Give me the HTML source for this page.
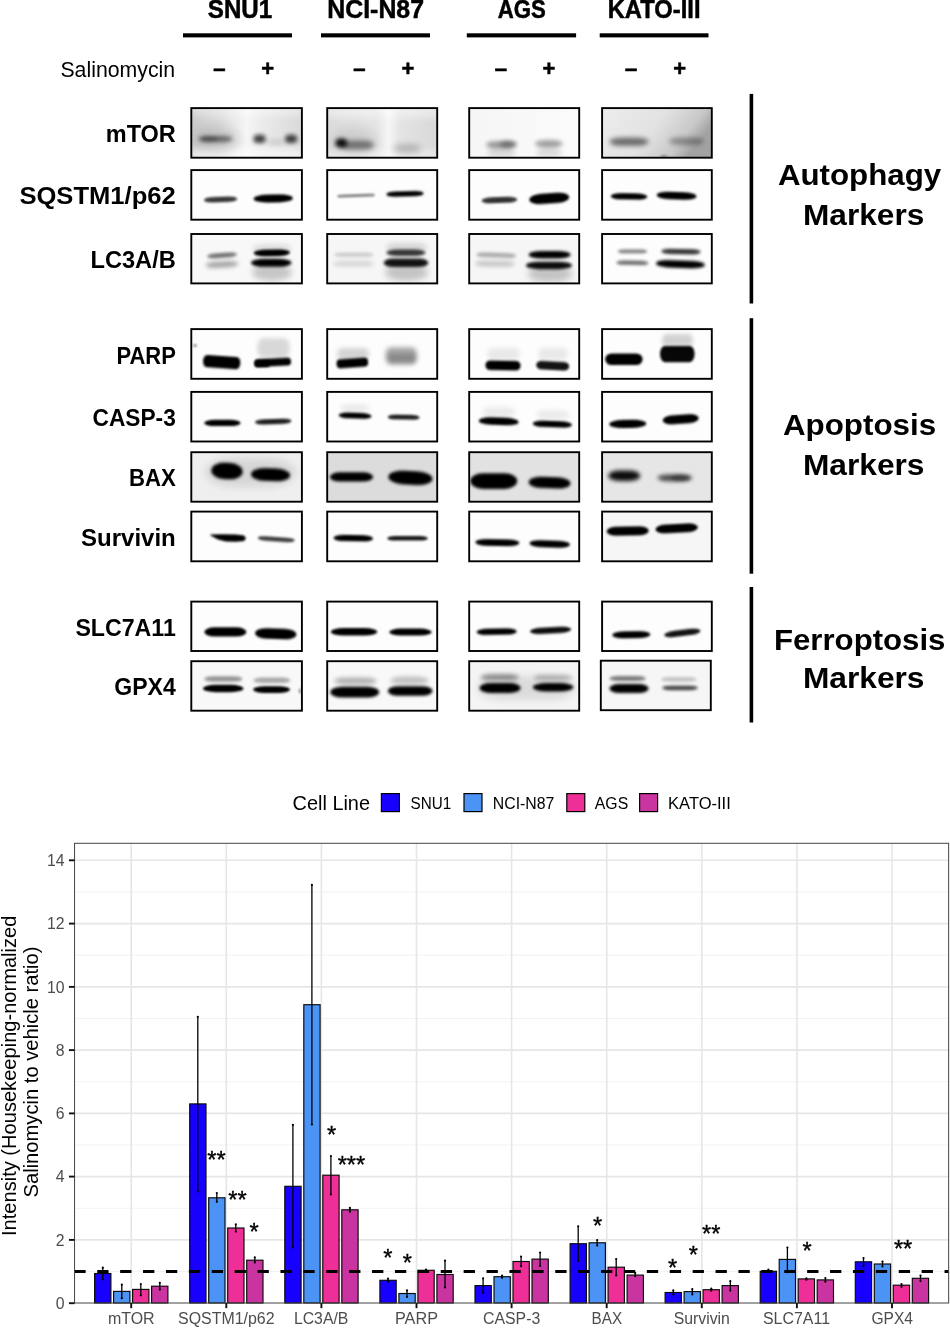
<!DOCTYPE html>
<html lang="en"><head><meta charset="utf-8"><title>Salinomycin western blot and quantification</title>
<style>
html,body{margin:0;padding:0;background:#fff;}
body{width:950px;height:1328px;overflow:hidden;}
svg{display:block;font-family:"Liberation Sans", Arial, Helvetica, sans-serif;}
text{white-space:pre;}
</style></head><body>
<svg width="950" height="1328" viewBox="0 0 950 1328">
<rect width="950" height="1328" fill="#fff"/>
<text x="207.8" y="18.3" font-size="25.8" font-weight="bold" fill="#000" text-anchor="start" textLength="64.4" lengthAdjust="spacingAndGlyphs" stroke="#000" stroke-width="0.5">SNU1</text>
<text x="327.3" y="18.3" font-size="25.8" font-weight="bold" fill="#000" text-anchor="start" textLength="96.7" lengthAdjust="spacingAndGlyphs" stroke="#000" stroke-width="0.5">NCI-N87</text>
<text x="497.7" y="18.3" font-size="25.8" font-weight="bold" fill="#000" text-anchor="start" textLength="48.1" lengthAdjust="spacingAndGlyphs" stroke="#000" stroke-width="0.5">AGS</text>
<text x="607.7" y="18.3" font-size="25.8" font-weight="bold" fill="#000" text-anchor="start" textLength="92.8" lengthAdjust="spacingAndGlyphs" stroke="#000" stroke-width="0.5">KATO-III</text>
<rect x="183" y="33.3" width="109.0" height="4.1" fill="#000"/>
<rect x="321" y="33.3" width="109.0" height="4.1" fill="#000"/>
<rect x="466.8" y="33.3" width="109.3" height="4.1" fill="#000"/>
<rect x="599.7" y="33.3" width="108.8" height="4.1" fill="#000"/>
<text x="60.4" y="77.0" font-size="22.8" font-weight="normal" fill="#000" text-anchor="start" textLength="114.8" lengthAdjust="spacingAndGlyphs">Salinomycin</text>
<text x="219.3" y="76.2" font-size="22" font-weight="bold" text-anchor="middle" stroke="#000" stroke-width="0.7" class="sg">&#8211;</text>
<text x="359.4" y="76.2" font-size="22" font-weight="bold" text-anchor="middle" stroke="#000" stroke-width="0.7" class="sg">&#8211;</text>
<text x="500.9" y="76.2" font-size="22" font-weight="bold" text-anchor="middle" stroke="#000" stroke-width="0.7" class="sg">&#8211;</text>
<text x="631.2" y="76.2" font-size="22" font-weight="bold" text-anchor="middle" stroke="#000" stroke-width="0.7" class="sg">&#8211;</text>
<text x="267.6" y="76.4" font-size="22" font-weight="bold" text-anchor="middle" stroke="#000" stroke-width="0.5" class="sg">+</text>
<text x="408.0" y="76.4" font-size="22" font-weight="bold" text-anchor="middle" stroke="#000" stroke-width="0.5" class="sg">+</text>
<text x="549.0" y="76.4" font-size="22" font-weight="bold" text-anchor="middle" stroke="#000" stroke-width="0.5" class="sg">+</text>
<text x="679.6" y="76.4" font-size="22" font-weight="bold" text-anchor="middle" stroke="#000" stroke-width="0.5" class="sg">+</text>
<text x="105.8" y="142.1" font-size="24.7" font-weight="bold" fill="#000" text-anchor="start" textLength="70.0" lengthAdjust="spacingAndGlyphs">mTOR</text>
<text x="19.4" y="204.0" font-size="24.7" font-weight="bold" fill="#000" text-anchor="start" textLength="156.4" lengthAdjust="spacingAndGlyphs">SQSTM1/p62</text>
<text x="90.5" y="267.6" font-size="24.7" font-weight="bold" fill="#000" text-anchor="start" textLength="85.3" lengthAdjust="spacingAndGlyphs">LC3A/B</text>
<text x="116.4" y="363.6" font-size="24.7" font-weight="bold" fill="#000" text-anchor="start" textLength="59.4" lengthAdjust="spacingAndGlyphs">PARP</text>
<text x="92.6" y="425.9" font-size="24.7" font-weight="bold" fill="#000" text-anchor="start" textLength="83.2" lengthAdjust="spacingAndGlyphs">CASP-3</text>
<text x="129.0" y="486.3" font-size="24.7" font-weight="bold" fill="#000" text-anchor="start" textLength="46.8" lengthAdjust="spacingAndGlyphs">BAX</text>
<text x="81.0" y="545.7" font-size="24.7" font-weight="bold" fill="#000" text-anchor="start" textLength="94.8" lengthAdjust="spacingAndGlyphs">Survivin</text>
<text x="75.4" y="635.8" font-size="24.7" font-weight="bold" fill="#000" text-anchor="start" textLength="100.4" lengthAdjust="spacingAndGlyphs">SLC7A11</text>
<text x="114.3" y="695.4" font-size="24.7" font-weight="bold" fill="#000" text-anchor="start" textLength="61.5" lengthAdjust="spacingAndGlyphs">GPX4</text>
<defs><filter id="b8" x="-30%" y="-150%" width="160%" height="400%"><feGaussianBlur stdDeviation="0.8"/></filter><filter id="b10" x="-30%" y="-150%" width="160%" height="400%"><feGaussianBlur stdDeviation="1.0"/></filter><filter id="b11" x="-30%" y="-150%" width="160%" height="400%"><feGaussianBlur stdDeviation="1.1"/></filter><filter id="b12" x="-30%" y="-150%" width="160%" height="400%"><feGaussianBlur stdDeviation="1.2"/></filter><filter id="b13" x="-30%" y="-150%" width="160%" height="400%"><feGaussianBlur stdDeviation="1.3"/></filter><filter id="b14" x="-30%" y="-150%" width="160%" height="400%"><feGaussianBlur stdDeviation="1.4"/></filter><filter id="b15" x="-30%" y="-150%" width="160%" height="400%"><feGaussianBlur stdDeviation="1.5"/></filter><filter id="b16" x="-30%" y="-150%" width="160%" height="400%"><feGaussianBlur stdDeviation="1.6"/></filter><filter id="b17" x="-30%" y="-150%" width="160%" height="400%"><feGaussianBlur stdDeviation="1.7"/></filter><filter id="b18" x="-30%" y="-150%" width="160%" height="400%"><feGaussianBlur stdDeviation="1.8"/></filter><filter id="b19" x="-30%" y="-150%" width="160%" height="400%"><feGaussianBlur stdDeviation="1.9"/></filter><filter id="b20" x="-30%" y="-150%" width="160%" height="400%"><feGaussianBlur stdDeviation="2.0"/></filter><filter id="b21" x="-30%" y="-150%" width="160%" height="400%"><feGaussianBlur stdDeviation="2.1"/></filter><filter id="b22" x="-30%" y="-150%" width="160%" height="400%"><feGaussianBlur stdDeviation="2.2"/></filter><filter id="b23" x="-30%" y="-150%" width="160%" height="400%"><feGaussianBlur stdDeviation="2.3"/></filter><filter id="b24" x="-30%" y="-150%" width="160%" height="400%"><feGaussianBlur stdDeviation="2.4"/></filter><filter id="b25" x="-30%" y="-150%" width="160%" height="400%"><feGaussianBlur stdDeviation="2.5"/></filter><filter id="b26" x="-30%" y="-150%" width="160%" height="400%"><feGaussianBlur stdDeviation="2.6"/></filter><filter id="b30" x="-30%" y="-150%" width="160%" height="400%"><feGaussianBlur stdDeviation="3"/></filter><filter id="b32" x="-30%" y="-150%" width="160%" height="400%"><feGaussianBlur stdDeviation="3.2"/></filter><filter id="b40" x="-30%" y="-150%" width="160%" height="400%"><feGaussianBlur stdDeviation="4"/></filter><filter id="b50" x="-30%" y="-150%" width="160%" height="400%"><feGaussianBlur stdDeviation="5"/></filter><linearGradient id="g00" x1="0" x2="1" y1="0" y2="0"><stop offset="0" stop-color="#c9c9c9"/><stop offset="0.25" stop-color="#dbdbdb"/><stop offset="0.5" stop-color="#f6f6f6"/><stop offset="0.62" stop-color="#ececec"/><stop offset="1" stop-color="#d9d9d9"/></linearGradient><linearGradient id="g01" x1="0" x2="1" y1="0" y2="0"><stop offset="0" stop-color="#dadada"/><stop offset="0.45" stop-color="#e4e4e4"/><stop offset="0.56" stop-color="#f6f6f6"/><stop offset="0.66" stop-color="#e4e4e4"/><stop offset="1" stop-color="#d8d8d8"/></linearGradient><linearGradient id="g02" x1="0" x2="1" y1="0" y2="0"><stop offset="0" stop-color="#f6f6f6"/><stop offset="1" stop-color="#fbfbfb"/></linearGradient><linearGradient id="g03" x1="0" x2="1" y1="0" y2="0.35"><stop offset="0" stop-color="#ededed"/><stop offset="0.55" stop-color="#e2e2e2"/><stop offset="0.85" stop-color="#c8c8c8"/><stop offset="1" stop-color="#a2a2a2"/></linearGradient><clipPath id="c00"><rect x="191.3" y="108.1" width="110.6" height="49.6"/></clipPath><clipPath id="c01"><rect x="327.2" y="108.1" width="110.0" height="49.6"/></clipPath><clipPath id="c02"><rect x="469.2" y="108.1" width="110.0" height="49.6"/></clipPath><clipPath id="c03"><rect x="602.1" y="108.1" width="109.7" height="49.6"/></clipPath><clipPath id="c10"><rect x="191.3" y="170.1" width="110.6" height="49.6"/></clipPath><clipPath id="c11"><rect x="327.2" y="170.1" width="110.0" height="49.6"/></clipPath><clipPath id="c12"><rect x="469.2" y="170.1" width="110.0" height="49.6"/></clipPath><clipPath id="c13"><rect x="602.1" y="170.1" width="109.7" height="49.6"/></clipPath><clipPath id="c20"><rect x="191.3" y="234.0" width="110.6" height="49.4"/></clipPath><clipPath id="c21"><rect x="327.2" y="234.0" width="110.0" height="49.4"/></clipPath><clipPath id="c22"><rect x="469.2" y="234.0" width="110.0" height="49.4"/></clipPath><clipPath id="c23"><rect x="602.1" y="234.0" width="109.7" height="49.4"/></clipPath><clipPath id="c30"><rect x="191.3" y="329.1" width="110.6" height="49.7"/></clipPath><clipPath id="c31"><rect x="327.2" y="329.1" width="110.0" height="49.7"/></clipPath><clipPath id="c32"><rect x="469.2" y="329.1" width="110.0" height="49.7"/></clipPath><clipPath id="c33"><rect x="602.1" y="329.1" width="109.7" height="49.7"/></clipPath><clipPath id="c40"><rect x="191.3" y="391.9" width="110.6" height="49.6"/></clipPath><clipPath id="c41"><rect x="327.2" y="391.9" width="110.0" height="49.6"/></clipPath><clipPath id="c42"><rect x="469.2" y="391.9" width="110.0" height="49.6"/></clipPath><clipPath id="c43"><rect x="602.1" y="391.9" width="109.7" height="49.6"/></clipPath><clipPath id="c50"><rect x="191.3" y="452.2" width="110.6" height="49.5"/></clipPath><clipPath id="c51"><rect x="327.2" y="452.2" width="110.0" height="49.5"/></clipPath><clipPath id="c52"><rect x="469.2" y="452.2" width="110.0" height="49.5"/></clipPath><clipPath id="c53"><rect x="602.1" y="452.2" width="109.7" height="49.5"/></clipPath><clipPath id="c60"><rect x="191.3" y="511.6" width="110.6" height="49.7"/></clipPath><clipPath id="c61"><rect x="327.2" y="511.6" width="110.0" height="49.7"/></clipPath><clipPath id="c62"><rect x="469.2" y="511.6" width="110.0" height="49.7"/></clipPath><clipPath id="c63"><rect x="602.1" y="511.6" width="109.7" height="49.7"/></clipPath><clipPath id="c70"><rect x="191.3" y="601.6" width="110.6" height="49.4"/></clipPath><clipPath id="c71"><rect x="327.2" y="601.6" width="110.0" height="49.4"/></clipPath><clipPath id="c72"><rect x="469.2" y="601.6" width="110.0" height="49.4"/></clipPath><clipPath id="c73"><rect x="602.1" y="601.6" width="109.7" height="49.4"/></clipPath><clipPath id="c80"><rect x="191.3" y="661.2" width="110.6" height="49.5"/></clipPath><clipPath id="c81"><rect x="327.2" y="661.2" width="110.0" height="49.5"/></clipPath><clipPath id="c82"><rect x="469.2" y="661.2" width="110.0" height="49.5"/></clipPath><clipPath id="c83"><rect x="602.1" y="661.2" width="109.7" height="49.5"/></clipPath></defs>
<rect x="191.3" y="108.1" width="110.6" height="49.6" fill="url(#g00)"/>
<g clip-path="url(#c00)">
<rect x="191" y="148" width="112" height="16" fill="#fff" opacity="0.55" filter="url(#b30)"/>
<rect x="191" y="100" width="112" height="16" fill="#fff" opacity="0.35" filter="url(#b30)"/>
<rect x="199.0" y="136.0" width="33.5" height="5.9" rx="10.0" ry="2.9" fill="#000" opacity="0.5" filter="url(#b19)"/>
<rect x="199.0" y="136.2" width="19.0" height="5.2" rx="8.8" ry="2.6" fill="#000" opacity="0.18" filter="url(#b15)"/>
<rect x="253.5" y="134.8" width="12.1" height="8.3" rx="4.1" ry="4.1" fill="#000" opacity="0.72" filter="url(#b19)"/>
<rect x="285.1" y="134.8" width="12.1" height="8.3" rx="4.1" ry="4.1" fill="#000" opacity="0.72" filter="url(#b19)"/>
<rect x="266.0" y="139.0" width="19.0" height="6.0" rx="9.5" ry="3.0" fill="#000" opacity="0.1" filter="url(#b25)"/>
<rect x="194.0" y="126.0" width="46.0" height="26.0" rx="23.0" ry="13.0" fill="#000" opacity="0.1" filter="url(#b50)"/>
</g>
<rect x="191.3" y="108.1" width="110.6" height="49.6" fill="none" stroke="#000" stroke-width="1.9"/>
<rect x="327.2" y="108.1" width="110.0" height="49.6" fill="url(#g01)"/>
<g clip-path="url(#c01)">
<rect x="327" y="150" width="112" height="14" fill="#fff" opacity="0.35" filter="url(#b30)"/>
<rect x="327" y="100" width="112" height="18" fill="#fff" opacity="0.4" filter="url(#b30)"/>
<rect x="335.3" y="138.4" width="11.8" height="9.1" rx="4.5" ry="4.5" fill="#000" opacity="0.92" filter="url(#b19)"/>
<rect x="341.0" y="140.5" width="33.0" height="9.0" rx="9.9" ry="4.5" fill="#000" opacity="0.45" filter="url(#b26)"/>
<rect x="393.0" y="144.0" width="28.0" height="9.5" rx="10.5" ry="4.8" fill="#000" opacity="0.2" filter="url(#b32)"/>
<rect x="332.0" y="128.0" width="46.0" height="28.0" rx="23.0" ry="14.0" fill="#000" opacity="0.08" filter="url(#b50)"/>
</g>
<rect x="327.2" y="108.1" width="110.0" height="49.6" fill="none" stroke="#000" stroke-width="1.9"/>
<rect x="469.2" y="108.1" width="110.0" height="49.6" fill="url(#g02)"/>
<g clip-path="url(#c02)">
<rect x="486.0" y="141.0" width="30.0" height="7.5" rx="12.8" ry="3.8" fill="#000" opacity="0.38" filter="url(#b22)"/>
<rect x="500.0" y="140.5" width="17.0" height="7.0" rx="8.5" ry="3.5" fill="#000" opacity="0.3" filter="url(#b20)"/>
<rect x="535.0" y="140.0" width="27.6" height="7.5" rx="12.8" ry="3.8" fill="#000" opacity="0.36" filter="url(#b22)"/>
<rect x="487.0" y="148.0" width="29.0" height="9.0" rx="9.9" ry="4.5" fill="#000" opacity="0.13" filter="url(#b25)"/>
<rect x="536.0" y="148.0" width="26.0" height="9.0" rx="9.9" ry="4.5" fill="#000" opacity="0.12" filter="url(#b25)"/>
</g>
<rect x="469.2" y="108.1" width="110.0" height="49.6" fill="none" stroke="#000" stroke-width="1.9"/>
<rect x="602.1" y="108.1" width="109.7" height="49.6" fill="url(#g03)"/>
<g clip-path="url(#c03)">
<rect x="609.4" y="137.7" width="39.1" height="8.1" rx="13.7" ry="4.0" fill="#000" opacity="0.55" filter="url(#b24)"/>
<rect x="669.0" y="137.5" width="34.6" height="7.5" rx="12.8" ry="3.8" fill="#000" opacity="0.33" filter="url(#b26)"/>
<rect x="660.2" y="155.5" width="7.6" height="1.6" rx="2.7" ry="0.8" fill="#000" opacity="0.5" filter="url(#b10)"/>
</g>
<rect x="602.1" y="108.1" width="109.7" height="49.6" fill="none" stroke="#000" stroke-width="1.9"/>
<rect x="191.3" y="170.1" width="110.6" height="49.6" fill="#fdfdfd"/>
<g clip-path="url(#c10)">
<rect x="203.8" y="196.7" width="33.5" height="5.6" rx="9.5" ry="2.8" fill="#000" opacity="0.78" filter="url(#b12)" transform="rotate(-2 220.6 199.4)"/>
<rect x="253.6" y="194.5" width="39.3" height="7.9" rx="13.5" ry="4.0" fill="#000" opacity="1.0" filter="url(#b11)" transform="rotate(-1 273.2 198.5)"/>
</g>
<rect x="191.3" y="170.1" width="110.6" height="49.6" fill="none" stroke="#000" stroke-width="1.9"/>
<rect x="327.2" y="170.1" width="110.0" height="49.6" fill="#fdfdfd"/>
<g clip-path="url(#c11)">
<rect x="337.1" y="194.2" width="37.9" height="2.9" rx="4.9" ry="1.4" fill="#000" opacity="0.5" filter="url(#b10)" transform="rotate(-2 356.0 195.7)"/>
<rect x="386.3" y="191.3" width="37.4" height="5.2" rx="8.8" ry="2.6" fill="#000" opacity="1.0" filter="url(#b10)" transform="rotate(-1.5 405.0 193.9)"/>
</g>
<rect x="327.2" y="170.1" width="110.0" height="49.6" fill="none" stroke="#000" stroke-width="1.9"/>
<rect x="469.2" y="170.1" width="110.0" height="49.6" fill="#fdfdfd"/>
<g clip-path="url(#c12)">
<rect x="481.5" y="197.0" width="35.8" height="6.1" rx="10.3" ry="3.0" fill="#000" opacity="0.8" filter="url(#b12)" transform="rotate(-2 499.4 200.0)"/>
<rect x="529.2" y="193.3" width="40.1" height="10.3" rx="11.4" ry="5.2" fill="#000" opacity="1.0" filter="url(#b11)" transform="rotate(-4 549.2 198.5)"/>
</g>
<rect x="469.2" y="170.1" width="110.0" height="49.6" fill="none" stroke="#000" stroke-width="1.9"/>
<rect x="602.1" y="170.1" width="109.7" height="49.6" fill="#fdfdfd"/>
<g clip-path="url(#c13)">
<rect x="610.7" y="193.3" width="36.6" height="6.3" rx="10.8" ry="3.2" fill="#000" opacity="1.0" filter="url(#b11)" transform="rotate(1 629.0 196.5)"/>
<rect x="656.7" y="192.0" width="39.8" height="7.6" rx="13.0" ry="3.8" fill="#000" opacity="1.0" filter="url(#b11)" transform="rotate(2 676.6 195.8)"/>
</g>
<rect x="602.1" y="170.1" width="109.7" height="49.6" fill="none" stroke="#000" stroke-width="1.9"/>
<rect x="191.3" y="234.0" width="110.6" height="49.4" fill="#f8f8f8"/>
<g clip-path="url(#c20)">
<rect x="207.2" y="253.1" width="29.6" height="4.6" rx="7.8" ry="2.3" fill="#000" opacity="0.55" filter="url(#b15)" transform="rotate(-4 221.9 255.4)"/>
<rect x="205.5" y="261.5" width="32.9" height="6.0" rx="10.2" ry="3.0" fill="#000" opacity="0.34" filter="url(#b20)" transform="rotate(-3 221.9 264.5)"/>
<rect x="253.6" y="249.4" width="36.5" height="6.8" rx="11.6" ry="3.4" fill="#000" opacity="1.0" filter="url(#b13)" transform="rotate(-1 271.9 252.8)"/>
<rect x="251.0" y="258.8" width="40.5" height="8.0" rx="13.5" ry="4.0" fill="#000" opacity="1.0" filter="url(#b14)"/>
<rect x="252.0" y="264.0" width="40.0" height="17.0" rx="18.7" ry="8.5" fill="#000" opacity="0.2" filter="url(#b30)"/>
<rect x="252.0" y="244.0" width="40.0" height="8.0" rx="13.6" ry="4.0" fill="#000" opacity="0.1" filter="url(#b25)"/>
</g>
<rect x="191.3" y="234.0" width="110.6" height="49.4" fill="none" stroke="#000" stroke-width="1.9"/>
<rect x="327.2" y="234.0" width="110.0" height="49.4" fill="#f6f6f6"/>
<g clip-path="url(#c21)">
<rect x="334.0" y="252.5" width="39.8" height="4.5" rx="7.6" ry="2.2" fill="#000" opacity="0.16" filter="url(#b18)"/>
<rect x="333.0" y="261.0" width="41.0" height="5.5" rx="9.3" ry="2.8" fill="#000" opacity="0.13" filter="url(#b20)"/>
<rect x="386.3" y="249.5" width="39.2" height="6.5" rx="11.1" ry="3.3" fill="#000" opacity="0.78" filter="url(#b16)"/>
<rect x="383.7" y="258.5" width="44.6" height="8.5" rx="9.4" ry="4.3" fill="#000" opacity="0.92" filter="url(#b16)"/>
<rect x="385.0" y="264.0" width="43.0" height="17.0" rx="18.7" ry="8.5" fill="#000" opacity="0.2" filter="url(#b30)"/>
<rect x="386.0" y="243.0" width="41.0" height="9.0" rx="9.9" ry="4.5" fill="#000" opacity="0.12" filter="url(#b25)"/>
</g>
<rect x="327.2" y="234.0" width="110.0" height="49.4" fill="none" stroke="#000" stroke-width="1.9"/>
<rect x="469.2" y="234.0" width="110.0" height="49.4" fill="#f6f6f6"/>
<g clip-path="url(#c22)">
<rect x="476.4" y="252.7" width="39.6" height="4.9" rx="8.3" ry="2.5" fill="#000" opacity="0.3" filter="url(#b18)" transform="rotate(2 496.2 255.2)"/>
<rect x="475.0" y="261.0" width="40.0" height="5.5" rx="9.3" ry="2.8" fill="#000" opacity="0.2" filter="url(#b20)" transform="rotate(1 495.0 263.8)"/>
<rect x="528.7" y="250.9" width="41.9" height="7.7" rx="13.0" ry="3.8" fill="#000" opacity="1.0" filter="url(#b14)"/>
<rect x="526.0" y="261.7" width="45.9" height="7.5" rx="12.8" ry="3.8" fill="#000" opacity="0.95" filter="url(#b16)"/>
<rect x="528.0" y="266.0" width="44.0" height="16.0" rx="17.6" ry="8.0" fill="#000" opacity="0.2" filter="url(#b30)"/>
</g>
<rect x="469.2" y="234.0" width="110.0" height="49.4" fill="none" stroke="#000" stroke-width="1.9"/>
<rect x="602.1" y="234.0" width="109.7" height="49.4" fill="#fdfdfd"/>
<g clip-path="url(#c23)">
<rect x="617.7" y="249.4" width="29.6" height="3.9" rx="6.6" ry="2.0" fill="#000" opacity="0.5" filter="url(#b15)"/>
<rect x="616.3" y="260.5" width="32.2" height="4.6" rx="7.9" ry="2.3" fill="#000" opacity="0.55" filter="url(#b16)" transform="rotate(1 632.4 262.8)"/>
<rect x="661.3" y="249.0" width="39.3" height="5.2" rx="8.8" ry="2.6" fill="#000" opacity="0.8" filter="url(#b14)" transform="rotate(1 680.9 251.6)"/>
<rect x="656.0" y="260.4" width="48.8" height="7.5" rx="12.7" ry="3.7" fill="#000" opacity="1.0" filter="url(#b14)" transform="rotate(2 680.4 264.1)"/>
</g>
<rect x="602.1" y="234.0" width="109.7" height="49.4" fill="none" stroke="#000" stroke-width="1.9"/>
<rect x="191.3" y="329.1" width="110.6" height="49.7" fill="#fdfdfd"/>
<g clip-path="url(#c30)">
<rect x="203.0" y="355.9" width="37.4" height="12.3" rx="3.9" ry="6.2" fill="#000" opacity="1.0" filter="url(#b11)" transform="rotate(4 221.7 362.1)"/>
<rect x="254.4" y="358.6" width="36.6" height="7.6" rx="3.1" ry="3.8" fill="#000" opacity="1.0" filter="url(#b11)" transform="rotate(-3 272.7 362.5)"/>
<rect x="254.7" y="360.3" width="15.1" height="6.8" rx="2.7" ry="3.4" fill="#000" opacity="0.9" filter="url(#b11)"/>
<rect x="257.0" y="338.0" width="33.0" height="20.0" rx="6.0" ry="10.0" fill="#000" opacity="0.14" filter="url(#b22)"/>
<rect x="193.0" y="344.0" width="4.0" height="3.0" rx="2.0" ry="1.5" fill="#000" opacity="0.45" filter="url(#b8)"/>
</g>
<rect x="191.3" y="329.1" width="110.6" height="49.7" fill="none" stroke="#000" stroke-width="1.9"/>
<rect x="327.2" y="329.1" width="110.0" height="49.7" fill="#fdfdfd"/>
<g clip-path="url(#c31)">
<rect x="336.5" y="358.5" width="31.7" height="8.9" rx="3.6" ry="4.5" fill="#000" opacity="1.0" filter="url(#b11)" transform="rotate(-4 352.4 363.0)"/>
<rect x="337.0" y="348.0" width="32.0" height="12.0" rx="4.8" ry="6.0" fill="#000" opacity="0.16" filter="url(#b24)"/>
<rect x="385.5" y="347.5" width="31.5" height="17.0" rx="4.2" ry="8.5" fill="#000" opacity="0.36" filter="url(#b24)"/>
<rect x="388.0" y="354.0" width="28.0" height="9.0" rx="3.6" ry="4.5" fill="#000" opacity="0.14" filter="url(#b20)"/>
</g>
<rect x="327.2" y="329.1" width="110.0" height="49.7" fill="none" stroke="#000" stroke-width="1.9"/>
<rect x="469.2" y="329.1" width="110.0" height="49.7" fill="#fdfdfd"/>
<g clip-path="url(#c32)">
<rect x="485.4" y="360.7" width="35.2" height="9.6" rx="4.8" ry="4.8" fill="#000" opacity="1.0" filter="url(#b12)" transform="rotate(1 503.0 365.5)"/>
<rect x="536.2" y="361.6" width="33.0" height="8.4" rx="5.1" ry="4.2" fill="#000" opacity="0.92" filter="url(#b13)" transform="rotate(3 552.8 365.8)"/>
<rect x="487.0" y="348.0" width="33.0" height="12.0" rx="4.8" ry="6.0" fill="#000" opacity="0.08" filter="url(#b25)"/>
<rect x="538.0" y="348.0" width="30.0" height="12.0" rx="4.8" ry="6.0" fill="#000" opacity="0.08" filter="url(#b25)"/>
</g>
<rect x="469.2" y="329.1" width="110.0" height="49.7" fill="none" stroke="#000" stroke-width="1.9"/>
<rect x="602.1" y="329.1" width="109.7" height="49.7" fill="#fdfdfd"/>
<g clip-path="url(#c33)">
<rect x="605.2" y="353.4" width="37.4" height="11.7" rx="6.4" ry="5.8" fill="#000" opacity="1.0" filter="url(#b12)"/>
<rect x="660.0" y="346.0" width="34.6" height="16.2" rx="4.9" ry="8.1" fill="#000" opacity="0.97" filter="url(#b12)"/>
<rect x="662.0" y="334.0" width="31.0" height="13.0" rx="3.9" ry="6.5" fill="#000" opacity="0.17" filter="url(#b23)"/>
</g>
<rect x="602.1" y="329.1" width="109.7" height="49.7" fill="none" stroke="#000" stroke-width="1.9"/>
<rect x="191.3" y="391.9" width="110.6" height="49.6" fill="#fdfdfd"/>
<g clip-path="url(#c40)">
<rect x="204.2" y="419.8" width="36.4" height="6.3" rx="10.8" ry="3.2" fill="#000" opacity="1.0" filter="url(#b11)"/>
<rect x="255.0" y="418.9" width="36.5" height="5.3" rx="9.0" ry="2.6" fill="#000" opacity="0.88" filter="url(#b12)" transform="rotate(-2 273.2 421.5)"/>
</g>
<rect x="191.3" y="391.9" width="110.6" height="49.6" fill="none" stroke="#000" stroke-width="1.9"/>
<rect x="327.2" y="391.9" width="110.0" height="49.6" fill="#fdfdfd"/>
<g clip-path="url(#c41)">
<rect x="338.5" y="412.8" width="33.2" height="5.8" rx="9.9" ry="2.9" fill="#000" opacity="1.0" filter="url(#b11)" transform="rotate(2 355.1 415.8)"/>
<rect x="387.7" y="414.8" width="31.9" height="4.8" rx="8.1" ry="2.4" fill="#000" opacity="0.88" filter="url(#b12)" transform="rotate(1 403.6 417.1)"/>
<rect x="340.0" y="404.0" width="30.0" height="8.0" rx="13.6" ry="4.0" fill="#000" opacity="0.08" filter="url(#b25)"/>
</g>
<rect x="327.2" y="391.9" width="110.0" height="49.6" fill="none" stroke="#000" stroke-width="1.9"/>
<rect x="469.2" y="391.9" width="110.0" height="49.6" fill="#fdfdfd"/>
<g clip-path="url(#c42)">
<rect x="478.8" y="417.6" width="39.8" height="7.5" rx="12.7" ry="3.7" fill="#000" opacity="1.0" filter="url(#b12)" transform="rotate(2 498.7 421.3)"/>
<rect x="532.7" y="421.1" width="39.3" height="6.2" rx="10.5" ry="3.1" fill="#000" opacity="1.0" filter="url(#b12)" transform="rotate(2 552.4 424.1)"/>
<rect x="482.0" y="407.0" width="34.0" height="10.0" rx="11.0" ry="5.0" fill="#000" opacity="0.07" filter="url(#b25)"/>
<rect x="536.0" y="410.0" width="34.0" height="10.0" rx="11.0" ry="5.0" fill="#000" opacity="0.07" filter="url(#b25)"/>
</g>
<rect x="469.2" y="391.9" width="110.0" height="49.6" fill="none" stroke="#000" stroke-width="1.9"/>
<rect x="602.1" y="391.9" width="109.7" height="49.6" fill="#fdfdfd"/>
<g clip-path="url(#c43)">
<rect x="609.2" y="419.7" width="37.1" height="8.4" rx="14.2" ry="4.2" fill="#000" opacity="1.0" filter="url(#b12)" transform="rotate(-1 627.8 423.9)"/>
<rect x="662.7" y="414.8" width="36.0" height="8.9" rx="9.8" ry="4.4" fill="#000" opacity="1.0" filter="url(#b12)" transform="rotate(-4 680.7 419.2)"/>
</g>
<rect x="602.1" y="391.9" width="109.7" height="49.6" fill="none" stroke="#000" stroke-width="1.9"/>
<rect x="191.3" y="452.2" width="110.6" height="49.5" fill="#efefef"/>
<g clip-path="url(#c50)">
<rect x="211.3" y="462.8" width="31.4" height="16.5" rx="13.2" ry="8.3" fill="#000" opacity="1.0" filter="url(#b16)" transform="rotate(3 227.0 471.1)"/>
<rect x="251.0" y="468.3" width="39.1" height="12.7" rx="14.0" ry="6.4" fill="#000" opacity="1.0" filter="url(#b16)" transform="rotate(2 270.5 474.6)"/>
<rect x="205.0" y="458.0" width="91.0" height="29.0" rx="31.9" ry="14.5" fill="#000" opacity="0.1" filter="url(#b40)"/>
</g>
<rect x="191.3" y="452.2" width="110.6" height="49.5" fill="none" stroke="#000" stroke-width="1.9"/>
<rect x="327.2" y="452.2" width="110.0" height="49.5" fill="#dcdcdc"/>
<g clip-path="url(#c51)">
<rect x="329.8" y="472.3" width="43.3" height="9.3" rx="10.2" ry="4.6" fill="#000" opacity="1.0" filter="url(#b14)"/>
<rect x="388.3" y="470.9" width="44.2" height="13.9" rx="15.3" ry="7.0" fill="#000" opacity="1.0" filter="url(#b15)" transform="rotate(3 410.4 477.9)"/>
</g>
<rect x="327.2" y="452.2" width="110.0" height="49.5" fill="none" stroke="#000" stroke-width="1.9"/>
<rect x="469.2" y="452.2" width="110.0" height="49.5" fill="#e2e2e2"/>
<g clip-path="url(#c52)">
<rect x="470.3" y="473.2" width="46.9" height="15.7" rx="12.6" ry="7.9" fill="#000" opacity="1.0" filter="url(#b16)"/>
<rect x="528.7" y="477.0" width="41.8" height="11.3" rx="12.5" ry="5.7" fill="#000" opacity="1.0" filter="url(#b16)" transform="rotate(2 549.6 482.6)"/>
</g>
<rect x="469.2" y="452.2" width="110.0" height="49.5" fill="none" stroke="#000" stroke-width="1.9"/>
<rect x="602.1" y="452.2" width="109.7" height="49.5" fill="#e6e6e6"/>
<g clip-path="url(#c53)">
<rect x="608.2" y="470.6" width="32.1" height="10.3" rx="11.3" ry="5.1" fill="#000" opacity="0.95" filter="url(#b20)"/>
<rect x="657.4" y="474.4" width="34.8" height="6.9" rx="11.8" ry="3.5" fill="#000" opacity="0.7" filter="url(#b21)"/>
<rect x="671.0" y="474.5" width="19.0" height="7.0" rx="9.5" ry="3.5" fill="#000" opacity="0.25" filter="url(#b16)"/>
</g>
<rect x="602.1" y="452.2" width="109.7" height="49.5" fill="none" stroke="#000" stroke-width="1.9"/>
<rect x="191.3" y="511.6" width="110.6" height="49.7" fill="#fdfdfd"/>
<g clip-path="url(#c60)">
<polygon points="210.5,534.6 222.0,534.3 236.0,534.6 244.0,535.6 246.0,538.2 244.0,541.0 236.0,541.8 226.0,541.4 218.0,539.6 210.5,535.6" fill="#000" opacity="1.0" filter="url(#b10)"/>
<rect x="257.7" y="536.9" width="37.1" height="4.5" rx="7.7" ry="2.3" fill="#000" opacity="0.75" filter="url(#b11)" transform="rotate(4 276.2 539.2)"/>
</g>
<rect x="191.3" y="511.6" width="110.6" height="49.7" fill="none" stroke="#000" stroke-width="1.9"/>
<rect x="327.2" y="511.6" width="110.0" height="49.7" fill="#fdfdfd"/>
<g clip-path="url(#c61)">
<rect x="333.5" y="535.1" width="39.6" height="6.2" rx="10.6" ry="3.1" fill="#000" opacity="1.0" filter="url(#b11)" transform="rotate(1 353.3 538.2)"/>
<rect x="387.2" y="536.0" width="40.6" height="4.6" rx="7.9" ry="2.3" fill="#000" opacity="0.9" filter="url(#b11)"/>
</g>
<rect x="327.2" y="511.6" width="110.0" height="49.7" fill="none" stroke="#000" stroke-width="1.9"/>
<rect x="469.2" y="511.6" width="110.0" height="49.7" fill="#fdfdfd"/>
<g clip-path="url(#c62)">
<rect x="475.2" y="539.2" width="44.3" height="6.8" rx="11.6" ry="3.4" fill="#000" opacity="1.0" filter="url(#b11)" transform="rotate(1 497.4 542.6)"/>
<rect x="529.4" y="540.6" width="40.7" height="6.8" rx="11.6" ry="3.4" fill="#000" opacity="1.0" filter="url(#b11)" transform="rotate(2 549.8 544.0)"/>
</g>
<rect x="469.2" y="511.6" width="110.0" height="49.7" fill="none" stroke="#000" stroke-width="1.9"/>
<rect x="602.1" y="511.6" width="109.7" height="49.7" fill="#f6f6f6"/>
<g clip-path="url(#c63)">
<rect x="606.6" y="526.5" width="42.2" height="9.1" rx="10.1" ry="4.6" fill="#000" opacity="1.0" filter="url(#b11)" transform="rotate(-1 627.7 531.1)"/>
<rect x="655.5" y="523.9" width="42.3" height="8.9" rx="9.8" ry="4.5" fill="#000" opacity="1.0" filter="url(#b11)" transform="rotate(-3 676.6 528.4)"/>
</g>
<rect x="602.1" y="511.6" width="109.7" height="49.7" fill="none" stroke="#000" stroke-width="1.9"/>
<rect x="191.3" y="601.6" width="110.6" height="49.4" fill="#fdfdfd"/>
<g clip-path="url(#c70)">
<rect x="204.4" y="627.3" width="42.0" height="9.3" rx="10.3" ry="4.7" fill="#000" opacity="1.0" filter="url(#b11)"/>
<rect x="255.0" y="628.4" width="41.5" height="10.6" rx="11.6" ry="5.3" fill="#000" opacity="1.0" filter="url(#b12)" transform="rotate(2 275.8 633.6)"/>
</g>
<rect x="191.3" y="601.6" width="110.6" height="49.4" fill="none" stroke="#000" stroke-width="1.9"/>
<rect x="327.2" y="601.6" width="110.0" height="49.4" fill="#fdfdfd"/>
<g clip-path="url(#c71)">
<rect x="330.8" y="628.1" width="46.4" height="7.5" rx="12.8" ry="3.8" fill="#000" opacity="1.0" filter="url(#b11)"/>
<rect x="389.1" y="628.6" width="42.7" height="7.0" rx="12.0" ry="3.5" fill="#000" opacity="1.0" filter="url(#b11)"/>
</g>
<rect x="327.2" y="601.6" width="110.0" height="49.4" fill="none" stroke="#000" stroke-width="1.9"/>
<rect x="469.2" y="601.6" width="110.0" height="49.4" fill="#fdfdfd"/>
<g clip-path="url(#c72)">
<rect x="476.6" y="628.6" width="40.2" height="6.2" rx="10.6" ry="3.1" fill="#000" opacity="1.0" filter="url(#b11)" transform="rotate(-1 496.7 631.8)"/>
<rect x="530.0" y="627.3" width="41.2" height="6.1" rx="10.4" ry="3.1" fill="#000" opacity="0.95" filter="url(#b11)" transform="rotate(-3 550.6 630.4)"/>
</g>
<rect x="469.2" y="601.6" width="110.0" height="49.4" fill="none" stroke="#000" stroke-width="1.9"/>
<rect x="602.1" y="601.6" width="109.7" height="49.4" fill="#fdfdfd"/>
<g clip-path="url(#c73)">
<rect x="612.1" y="631.3" width="38.4" height="7.0" rx="12.0" ry="3.5" fill="#000" opacity="1.0" filter="url(#b11)" transform="rotate(-1 631.3 634.9)"/>
<rect x="664.1" y="629.8" width="36.5" height="6.3" rx="10.8" ry="3.2" fill="#000" opacity="0.92" filter="url(#b11)" transform="rotate(-7 682.3 633.0)"/>
</g>
<rect x="602.1" y="601.6" width="109.7" height="49.4" fill="none" stroke="#000" stroke-width="1.9"/>
<rect x="191.3" y="661.2" width="110.6" height="49.5" fill="#f8f8f8"/>
<g clip-path="url(#c80)">
<rect x="204.2" y="676.2" width="38.3" height="5.5" rx="9.3" ry="2.8" fill="#000" opacity="0.4" filter="url(#b17)"/>
<rect x="203.0" y="684.8" width="40.5" height="7.4" rx="12.6" ry="3.7" fill="#000" opacity="1.0" filter="url(#b13)"/>
<rect x="253.4" y="677.6" width="37.0" height="5.4" rx="9.2" ry="2.7" fill="#000" opacity="0.32" filter="url(#b17)"/>
<rect x="253.1" y="686.2" width="37.0" height="6.8" rx="11.6" ry="3.4" fill="#000" opacity="1.0" filter="url(#b13)"/>
<rect x="298.6" y="688.5" width="3.0" height="4.9" rx="1.5" ry="2.4" fill="#000" opacity="0.4" filter="url(#b10)"/>
</g>
<rect x="191.3" y="661.2" width="110.6" height="49.5" fill="none" stroke="#000" stroke-width="1.9"/>
<rect x="327.2" y="661.2" width="110.0" height="49.5" fill="#f8f8f8"/>
<g clip-path="url(#c81)">
<rect x="334.2" y="677.6" width="42.4" height="6.8" rx="11.6" ry="3.4" fill="#000" opacity="0.28" filter="url(#b20)"/>
<rect x="330.3" y="686.7" width="48.8" height="10.9" rx="11.9" ry="5.4" fill="#000" opacity="1.0" filter="url(#b14)"/>
<rect x="390.3" y="676.5" width="38.3" height="7.9" rx="13.4" ry="3.9" fill="#000" opacity="0.22" filter="url(#b20)"/>
<rect x="387.8" y="686.2" width="44.7" height="9.6" rx="10.5" ry="4.8" fill="#000" opacity="1.0" filter="url(#b14)"/>
</g>
<rect x="327.2" y="661.2" width="110.0" height="49.5" fill="none" stroke="#000" stroke-width="1.9"/>
<rect x="469.2" y="661.2" width="110.0" height="49.5" fill="#f4f4f4"/>
<g clip-path="url(#c82)">
<rect x="480.5" y="674.3" width="38.3" height="6.0" rx="10.2" ry="3.0" fill="#000" opacity="0.4" filter="url(#b19)"/>
<rect x="479.5" y="683.0" width="41.1" height="10.0" rx="11.0" ry="5.0" fill="#000" opacity="1.0" filter="url(#b15)"/>
<rect x="533.9" y="675.0" width="38.3" height="5.3" rx="9.0" ry="2.6" fill="#000" opacity="0.25" filter="url(#b19)"/>
<rect x="532.8" y="683.0" width="40.6" height="8.4" rx="14.3" ry="4.2" fill="#000" opacity="1.0" filter="url(#b15)"/>
<rect x="478.0" y="676.0" width="97.0" height="24.0" rx="26.4" ry="12.0" fill="#000" opacity="0.1" filter="url(#b40)"/>
</g>
<rect x="469.2" y="661.2" width="110.0" height="49.5" fill="none" stroke="#000" stroke-width="1.9"/>
<rect x="600.8000000000001" y="660.7" width="110.0" height="49.5" fill="#f6f6f6"/>
<g clip-path="url(#c83)">
<rect x="609.5" y="675.9" width="36.2" height="5.2" rx="8.9" ry="2.6" fill="#000" opacity="0.5" filter="url(#b18)"/>
<rect x="609.5" y="684.0" width="39.1" height="9.0" rx="9.9" ry="4.5" fill="#000" opacity="1.0" filter="url(#b14)"/>
<rect x="661.0" y="677.0" width="35.7" height="4.7" rx="8.0" ry="2.4" fill="#000" opacity="0.2" filter="url(#b18)"/>
<rect x="662.3" y="685.7" width="35.4" height="4.5" rx="7.7" ry="2.3" fill="#000" opacity="0.72" filter="url(#b16)"/>
</g>
<rect x="600.8" y="660.7" width="110.0" height="49.5" fill="none" stroke="#000" stroke-width="1.9"/>
<rect x="749.6" y="93.9" width="3.6" height="209.6" fill="#000"/>
<rect x="749.6" y="318.2" width="3.6" height="255.5" fill="#000"/>
<rect x="749.6" y="587.0" width="3.6" height="135.5" fill="#000"/>
<text x="777.9" y="185.4" font-size="29.6" font-weight="bold" fill="#000" text-anchor="start" textLength="163.3" lengthAdjust="spacingAndGlyphs">Autophagy</text>
<text x="803.0" y="225.4" font-size="29.6" font-weight="bold" fill="#000" text-anchor="start" textLength="121.3" lengthAdjust="spacingAndGlyphs">Markers</text>
<text x="783.0" y="435.2" font-size="29.6" font-weight="bold" fill="#000" text-anchor="start" textLength="153.1" lengthAdjust="spacingAndGlyphs">Apoptosis</text>
<text x="802.9" y="474.6" font-size="29.6" font-weight="bold" fill="#000" text-anchor="start" textLength="121.6" lengthAdjust="spacingAndGlyphs">Markers</text>
<text x="774.0" y="649.6" font-size="29.6" font-weight="bold" fill="#000" text-anchor="start" textLength="171.4" lengthAdjust="spacingAndGlyphs">Ferroptosis</text>
<text x="802.9" y="687.7" font-size="29.6" font-weight="bold" fill="#000" text-anchor="start" textLength="121.6" lengthAdjust="spacingAndGlyphs">Markers</text>
<text x="292.6" y="810.0" font-size="19.8" font-weight="normal" fill="#000" text-anchor="start" textLength="77.4" lengthAdjust="spacingAndGlyphs">Cell Line</text>
<rect x="381.4" y="793.6" width="18.0" height="18.0" fill="#1800ff" stroke="#000" stroke-width="1.2"/>
<text x="410.6" y="809.3" font-size="15.8" font-weight="normal" fill="#000" text-anchor="start" textLength="40.7" lengthAdjust="spacingAndGlyphs">SNU1</text>
<rect x="464.0" y="793.6" width="18.0" height="18.0" fill="#4b93f5" stroke="#000" stroke-width="1.2"/>
<text x="492.8" y="809.3" font-size="15.8" font-weight="normal" fill="#000" text-anchor="start" textLength="61.6" lengthAdjust="spacingAndGlyphs">NCI-N87</text>
<rect x="566.8" y="793.6" width="18.0" height="18.0" fill="#ee2f98" stroke="#000" stroke-width="1.2"/>
<text x="594.8" y="809.3" font-size="15.8" font-weight="normal" fill="#000" text-anchor="start" textLength="33.4" lengthAdjust="spacingAndGlyphs">AGS</text>
<rect x="639.6" y="793.6" width="18.0" height="18.0" fill="#ca34a1" stroke="#000" stroke-width="1.2"/>
<text x="668.1" y="809.3" font-size="15.8" font-weight="normal" fill="#000" text-anchor="start" textLength="62.7" lengthAdjust="spacingAndGlyphs">KATO-III</text>
<rect x="74.55" y="843.3" width="874.1" height="459.7" fill="#fff"/>
<line x1="74.55" x2="948.65" y1="1271.5" y2="1271.5" stroke="#efefef" stroke-width="0.8"/>
<line x1="74.55" x2="948.65" y1="1208.3" y2="1208.3" stroke="#efefef" stroke-width="0.8"/>
<line x1="74.55" x2="948.65" y1="1145.0" y2="1145.0" stroke="#efefef" stroke-width="0.8"/>
<line x1="74.55" x2="948.65" y1="1081.7" y2="1081.7" stroke="#efefef" stroke-width="0.8"/>
<line x1="74.55" x2="948.65" y1="1018.5" y2="1018.5" stroke="#efefef" stroke-width="0.8"/>
<line x1="74.55" x2="948.65" y1="955.2" y2="955.2" stroke="#efefef" stroke-width="0.8"/>
<line x1="74.55" x2="948.65" y1="892.0" y2="892.0" stroke="#efefef" stroke-width="0.8"/>
<line x1="74.55" x2="948.65" y1="1239.9" y2="1239.9" stroke="#e6e6e6" stroke-width="1.6"/>
<line x1="74.55" x2="948.65" y1="1176.6" y2="1176.6" stroke="#e6e6e6" stroke-width="1.6"/>
<line x1="74.55" x2="948.65" y1="1113.4" y2="1113.4" stroke="#e6e6e6" stroke-width="1.6"/>
<line x1="74.55" x2="948.65" y1="1050.1" y2="1050.1" stroke="#e6e6e6" stroke-width="1.6"/>
<line x1="74.55" x2="948.65" y1="986.9" y2="986.9" stroke="#e6e6e6" stroke-width="1.6"/>
<line x1="74.55" x2="948.65" y1="923.6" y2="923.6" stroke="#e6e6e6" stroke-width="1.6"/>
<line x1="74.55" x2="948.65" y1="860.3" y2="860.3" stroke="#e6e6e6" stroke-width="1.6"/>
<line x1="131.2" x2="131.2" y1="843.3" y2="1303.0" stroke="#e6e6e6" stroke-width="1.6"/>
<line x1="226.3" x2="226.3" y1="843.3" y2="1303.0" stroke="#e6e6e6" stroke-width="1.6"/>
<line x1="321.4" x2="321.4" y1="843.3" y2="1303.0" stroke="#e6e6e6" stroke-width="1.6"/>
<line x1="416.5" x2="416.5" y1="843.3" y2="1303.0" stroke="#e6e6e6" stroke-width="1.6"/>
<line x1="511.6" x2="511.6" y1="843.3" y2="1303.0" stroke="#e6e6e6" stroke-width="1.6"/>
<line x1="606.7" x2="606.7" y1="843.3" y2="1303.0" stroke="#e6e6e6" stroke-width="1.6"/>
<line x1="701.8" x2="701.8" y1="843.3" y2="1303.0" stroke="#e6e6e6" stroke-width="1.6"/>
<line x1="796.9" x2="796.9" y1="843.3" y2="1303.0" stroke="#e6e6e6" stroke-width="1.6"/>
<line x1="892.0" x2="892.0" y1="843.3" y2="1303.0" stroke="#e6e6e6" stroke-width="1.6"/>
<rect x="94.6" y="1273.5" width="16.3" height="29.5" fill="#1800ff" stroke="#0a0a0a" stroke-width="1.15"/>
<rect x="113.6" y="1291.4" width="16.3" height="11.6" fill="#4b93f5" stroke="#0a0a0a" stroke-width="1.15"/>
<rect x="132.6" y="1289.4" width="16.3" height="13.6" fill="#ee2f98" stroke="#0a0a0a" stroke-width="1.15"/>
<rect x="151.6" y="1286.2" width="16.3" height="16.8" fill="#ca34a1" stroke="#0a0a0a" stroke-width="1.15"/>
<rect x="189.7" y="1103.9" width="16.3" height="199.1" fill="#1800ff" stroke="#0a0a0a" stroke-width="1.15"/>
<rect x="208.7" y="1197.8" width="16.3" height="105.2" fill="#4b93f5" stroke="#0a0a0a" stroke-width="1.15"/>
<rect x="227.7" y="1228.0" width="16.3" height="75.0" fill="#ee2f98" stroke="#0a0a0a" stroke-width="1.15"/>
<rect x="246.7" y="1260.2" width="16.3" height="42.8" fill="#ca34a1" stroke="#0a0a0a" stroke-width="1.15"/>
<rect x="284.8" y="1186.3" width="16.3" height="116.7" fill="#1800ff" stroke="#0a0a0a" stroke-width="1.15"/>
<rect x="303.8" y="1004.7" width="16.3" height="298.3" fill="#4b93f5" stroke="#0a0a0a" stroke-width="1.15"/>
<rect x="322.8" y="1175.2" width="16.3" height="127.8" fill="#ee2f98" stroke="#0a0a0a" stroke-width="1.15"/>
<rect x="341.8" y="1209.8" width="16.3" height="93.2" fill="#ca34a1" stroke="#0a0a0a" stroke-width="1.15"/>
<rect x="379.9" y="1280.3" width="16.3" height="22.7" fill="#1800ff" stroke="#0a0a0a" stroke-width="1.15"/>
<rect x="398.9" y="1293.5" width="16.3" height="9.5" fill="#4b93f5" stroke="#0a0a0a" stroke-width="1.15"/>
<rect x="417.9" y="1270.3" width="16.3" height="32.7" fill="#ee2f98" stroke="#0a0a0a" stroke-width="1.15"/>
<rect x="436.9" y="1274.5" width="16.3" height="28.5" fill="#ca34a1" stroke="#0a0a0a" stroke-width="1.15"/>
<rect x="475.0" y="1285.6" width="16.3" height="17.4" fill="#1800ff" stroke="#0a0a0a" stroke-width="1.15"/>
<rect x="494.0" y="1276.7" width="16.3" height="26.3" fill="#4b93f5" stroke="#0a0a0a" stroke-width="1.15"/>
<rect x="513.0" y="1261.5" width="16.3" height="41.5" fill="#ee2f98" stroke="#0a0a0a" stroke-width="1.15"/>
<rect x="532.0" y="1259.1" width="16.3" height="43.9" fill="#ca34a1" stroke="#0a0a0a" stroke-width="1.15"/>
<rect x="570.1" y="1243.7" width="16.3" height="59.3" fill="#1800ff" stroke="#0a0a0a" stroke-width="1.15"/>
<rect x="589.1" y="1242.8" width="16.3" height="60.2" fill="#4b93f5" stroke="#0a0a0a" stroke-width="1.15"/>
<rect x="608.1" y="1267.2" width="16.3" height="35.8" fill="#ee2f98" stroke="#0a0a0a" stroke-width="1.15"/>
<rect x="627.1" y="1275.1" width="16.3" height="27.9" fill="#ca34a1" stroke="#0a0a0a" stroke-width="1.15"/>
<rect x="665.1" y="1292.5" width="16.3" height="10.5" fill="#1800ff" stroke="#0a0a0a" stroke-width="1.15"/>
<rect x="684.1" y="1291.6" width="16.3" height="11.4" fill="#4b93f5" stroke="#0a0a0a" stroke-width="1.15"/>
<rect x="703.1" y="1289.7" width="16.3" height="13.3" fill="#ee2f98" stroke="#0a0a0a" stroke-width="1.15"/>
<rect x="722.1" y="1285.6" width="16.3" height="17.4" fill="#ca34a1" stroke="#0a0a0a" stroke-width="1.15"/>
<rect x="760.2" y="1271.3" width="16.3" height="31.7" fill="#1800ff" stroke="#0a0a0a" stroke-width="1.15"/>
<rect x="779.2" y="1259.4" width="16.3" height="43.6" fill="#4b93f5" stroke="#0a0a0a" stroke-width="1.15"/>
<rect x="798.2" y="1278.9" width="16.3" height="24.1" fill="#ee2f98" stroke="#0a0a0a" stroke-width="1.15"/>
<rect x="817.2" y="1279.9" width="16.3" height="23.1" fill="#ca34a1" stroke="#0a0a0a" stroke-width="1.15"/>
<rect x="855.3" y="1261.8" width="16.3" height="41.2" fill="#1800ff" stroke="#0a0a0a" stroke-width="1.15"/>
<rect x="874.3" y="1264.0" width="16.3" height="39.0" fill="#4b93f5" stroke="#0a0a0a" stroke-width="1.15"/>
<rect x="893.3" y="1285.2" width="16.3" height="17.8" fill="#ee2f98" stroke="#0a0a0a" stroke-width="1.15"/>
<rect x="912.3" y="1278.3" width="16.3" height="24.7" fill="#ca34a1" stroke="#0a0a0a" stroke-width="1.15"/>
<line x1="102.8" x2="102.8" y1="1267.7" y2="1279.3" stroke="#000" stroke-width="1.3"/><circle cx="102.8" cy="1267.7" r="1.1"/><circle cx="102.8" cy="1279.3" r="1.1"/>
<line x1="121.8" x2="121.8" y1="1284.7" y2="1298.2" stroke="#000" stroke-width="1.3"/><circle cx="121.8" cy="1284.7" r="1.1"/><circle cx="121.8" cy="1298.2" r="1.1"/>
<line x1="140.8" x2="140.8" y1="1284.0" y2="1295.3" stroke="#000" stroke-width="1.3"/><circle cx="140.8" cy="1284.0" r="1.1"/><circle cx="140.8" cy="1295.3" r="1.1"/>
<line x1="159.8" x2="159.8" y1="1282.8" y2="1289.6" stroke="#000" stroke-width="1.3"/><circle cx="159.8" cy="1282.8" r="1.1"/><circle cx="159.8" cy="1289.6" r="1.1"/>
<line x1="197.8" x2="197.8" y1="1016.8" y2="1191.4" stroke="#000" stroke-width="1.3"/><circle cx="197.8" cy="1016.8" r="1.1"/><circle cx="197.8" cy="1191.4" r="1.1"/>
<line x1="216.8" x2="216.8" y1="1193.0" y2="1201.8" stroke="#000" stroke-width="1.3"/><circle cx="216.8" cy="1193.0" r="1.1"/><circle cx="216.8" cy="1201.8" r="1.1"/>
<line x1="235.8" x2="235.8" y1="1224.4" y2="1231.6" stroke="#000" stroke-width="1.3"/><circle cx="235.8" cy="1224.4" r="1.1"/><circle cx="235.8" cy="1231.6" r="1.1"/>
<line x1="254.8" x2="254.8" y1="1257.4" y2="1262.4" stroke="#000" stroke-width="1.3"/><circle cx="254.8" cy="1257.4" r="1.1"/><circle cx="254.8" cy="1262.4" r="1.1"/>
<line x1="292.9" x2="292.9" y1="1124.9" y2="1247.5" stroke="#000" stroke-width="1.3"/><circle cx="292.9" cy="1124.9" r="1.1"/><circle cx="292.9" cy="1247.5" r="1.1"/>
<line x1="311.9" x2="311.9" y1="884.9" y2="1124.5" stroke="#000" stroke-width="1.3"/><circle cx="311.9" cy="884.9" r="1.1"/><circle cx="311.9" cy="1124.5" r="1.1"/>
<line x1="330.9" x2="330.9" y1="1156.0" y2="1194.5" stroke="#000" stroke-width="1.3"/><circle cx="330.9" cy="1156.0" r="1.1"/><circle cx="330.9" cy="1194.5" r="1.1"/>
<line x1="349.9" x2="349.9" y1="1207.9" y2="1211.7" stroke="#000" stroke-width="1.3"/><circle cx="349.9" cy="1207.9" r="1.1"/><circle cx="349.9" cy="1211.7" r="1.1"/>
<line x1="388.0" x2="388.0" y1="1278.6" y2="1281.7" stroke="#000" stroke-width="1.3"/><circle cx="388.0" cy="1278.6" r="1.1"/><circle cx="388.0" cy="1281.7" r="1.1"/>
<line x1="407.0" x2="407.0" y1="1290.4" y2="1296.9" stroke="#000" stroke-width="1.3"/><circle cx="407.0" cy="1290.4" r="1.1"/><circle cx="407.0" cy="1296.9" r="1.1"/>
<line x1="426.0" x2="426.0" y1="1269.5" y2="1270.9" stroke="#000" stroke-width="1.3"/><circle cx="426.0" cy="1269.5" r="1.1"/><circle cx="426.0" cy="1270.9" r="1.1"/>
<line x1="445.0" x2="445.0" y1="1260.6" y2="1287.4" stroke="#000" stroke-width="1.3"/><circle cx="445.0" cy="1260.6" r="1.1"/><circle cx="445.0" cy="1287.4" r="1.1"/>
<line x1="483.1" x2="483.1" y1="1278.3" y2="1292.8" stroke="#000" stroke-width="1.3"/><circle cx="483.1" cy="1278.3" r="1.1"/><circle cx="483.1" cy="1292.8" r="1.1"/>
<line x1="502.1" x2="502.1" y1="1275.5" y2="1277.8" stroke="#000" stroke-width="1.3"/><circle cx="502.1" cy="1275.5" r="1.1"/><circle cx="502.1" cy="1277.8" r="1.1"/>
<line x1="521.1" x2="521.1" y1="1256.5" y2="1266.2" stroke="#000" stroke-width="1.3"/><circle cx="521.1" cy="1256.5" r="1.1"/><circle cx="521.1" cy="1266.2" r="1.1"/>
<line x1="540.1" x2="540.1" y1="1252.5" y2="1265.9" stroke="#000" stroke-width="1.3"/><circle cx="540.1" cy="1252.5" r="1.1"/><circle cx="540.1" cy="1265.9" r="1.1"/>
<line x1="578.2" x2="578.2" y1="1226.3" y2="1261.1" stroke="#000" stroke-width="1.3"/><circle cx="578.2" cy="1226.3" r="1.1"/><circle cx="578.2" cy="1261.1" r="1.1"/>
<line x1="597.2" x2="597.2" y1="1240.0" y2="1245.6" stroke="#000" stroke-width="1.3"/><circle cx="597.2" cy="1240.0" r="1.1"/><circle cx="597.2" cy="1245.6" r="1.1"/>
<line x1="616.2" x2="616.2" y1="1259.0" y2="1275.4" stroke="#000" stroke-width="1.3"/><circle cx="616.2" cy="1259.0" r="1.1"/><circle cx="616.2" cy="1275.4" r="1.1"/>
<line x1="635.2" x2="635.2" y1="1272.9" y2="1276.3" stroke="#000" stroke-width="1.3"/><circle cx="635.2" cy="1272.9" r="1.1"/><circle cx="635.2" cy="1276.3" r="1.1"/>
<line x1="673.3" x2="673.3" y1="1290.4" y2="1294.7" stroke="#000" stroke-width="1.3"/><circle cx="673.3" cy="1290.4" r="1.1"/><circle cx="673.3" cy="1294.7" r="1.1"/>
<line x1="692.3" x2="692.3" y1="1289.1" y2="1294.4" stroke="#000" stroke-width="1.3"/><circle cx="692.3" cy="1289.1" r="1.1"/><circle cx="692.3" cy="1294.4" r="1.1"/>
<line x1="711.3" x2="711.3" y1="1288.5" y2="1290.8" stroke="#000" stroke-width="1.3"/><circle cx="711.3" cy="1288.5" r="1.1"/><circle cx="711.3" cy="1290.8" r="1.1"/>
<line x1="730.3" x2="730.3" y1="1281.2" y2="1290.6" stroke="#000" stroke-width="1.3"/><circle cx="730.3" cy="1281.2" r="1.1"/><circle cx="730.3" cy="1290.6" r="1.1"/>
<line x1="768.4" x2="768.4" y1="1269.7" y2="1271.6" stroke="#000" stroke-width="1.3"/><circle cx="768.4" cy="1269.7" r="1.1"/><circle cx="768.4" cy="1271.6" r="1.1"/>
<line x1="787.4" x2="787.4" y1="1247.6" y2="1272.2" stroke="#000" stroke-width="1.3"/><circle cx="787.4" cy="1247.6" r="1.1"/><circle cx="787.4" cy="1272.2" r="1.1"/>
<line x1="806.4" x2="806.4" y1="1278.4" y2="1279.7" stroke="#000" stroke-width="1.3"/><circle cx="806.4" cy="1278.4" r="1.1"/><circle cx="806.4" cy="1279.7" r="1.1"/>
<line x1="825.4" x2="825.4" y1="1278.0" y2="1281.7" stroke="#000" stroke-width="1.3"/><circle cx="825.4" cy="1278.0" r="1.1"/><circle cx="825.4" cy="1281.7" r="1.1"/>
<line x1="863.5" x2="863.5" y1="1258.0" y2="1265.9" stroke="#000" stroke-width="1.3"/><circle cx="863.5" cy="1258.0" r="1.1"/><circle cx="863.5" cy="1265.9" r="1.1"/>
<line x1="882.5" x2="882.5" y1="1261.5" y2="1266.5" stroke="#000" stroke-width="1.3"/><circle cx="882.5" cy="1261.5" r="1.1"/><circle cx="882.5" cy="1266.5" r="1.1"/>
<line x1="901.5" x2="901.5" y1="1284.0" y2="1286.8" stroke="#000" stroke-width="1.3"/><circle cx="901.5" cy="1284.0" r="1.1"/><circle cx="901.5" cy="1286.8" r="1.1"/>
<line x1="920.5" x2="920.5" y1="1275.5" y2="1281.1" stroke="#000" stroke-width="1.3"/><circle cx="920.5" cy="1275.5" r="1.1"/><circle cx="920.5" cy="1281.1" r="1.1"/>
<line x1="74.35" x2="948.65" y1="1271.6" y2="1271.6" stroke="#000" stroke-width="3.0" stroke-dasharray="11.3 11.6"/>
<rect x="74.55" y="843.3" width="874.1" height="459.7" fill="none" stroke="#444" stroke-width="1.0"/>
<text x="216.4" y="1168.3" font-size="23.6" text-anchor="middle" fill="#000" stroke="#000" stroke-width="0.35" class="st">**</text>
<text x="237.5" y="1207.9" font-size="23.6" text-anchor="middle" fill="#000" stroke="#000" stroke-width="0.35" class="st">**</text>
<text x="254.2" y="1240.3" font-size="23.6" text-anchor="middle" fill="#000" stroke="#000" stroke-width="0.35" class="st">*</text>
<text x="331.6" y="1143.3" font-size="23.6" text-anchor="middle" fill="#000" stroke="#000" stroke-width="0.35" class="st">*</text>
<text x="351.4" y="1172.8" font-size="23.6" text-anchor="middle" fill="#000" stroke="#000" stroke-width="0.35" class="st">***</text>
<text x="387.9" y="1266.3" font-size="23.6" text-anchor="middle" fill="#000" stroke="#000" stroke-width="0.35" class="st">*</text>
<text x="407.4" y="1271.3" font-size="23.6" text-anchor="middle" fill="#000" stroke="#000" stroke-width="0.35" class="st">*</text>
<text x="597.7" y="1233.8" font-size="23.6" text-anchor="middle" fill="#000" stroke="#000" stroke-width="0.35" class="st">*</text>
<text x="672.7" y="1275.5" font-size="23.6" text-anchor="middle" fill="#000" stroke="#000" stroke-width="0.35" class="st">*</text>
<text x="693.3" y="1262.8" font-size="23.6" text-anchor="middle" fill="#000" stroke="#000" stroke-width="0.35" class="st">*</text>
<text x="711.2" y="1242.3" font-size="23.6" text-anchor="middle" fill="#000" stroke="#000" stroke-width="0.35" class="st">**</text>
<text x="807.1" y="1259.0" font-size="23.6" text-anchor="middle" fill="#000" stroke="#000" stroke-width="0.35" class="st">*</text>
<text x="903.1" y="1256.5" font-size="23.6" text-anchor="middle" fill="#000" stroke="#000" stroke-width="0.35" class="st">**</text>
<line x1="68.95" x2="74.55" y1="1303.2" y2="1303.2" stroke="#111" stroke-width="1.9"/>
<text x="64.5" y="1308.9" font-size="15.8" font-weight="normal" fill="#4d4d4d" text-anchor="end">0</text>
<line x1="68.95" x2="74.55" y1="1239.9" y2="1239.9" stroke="#111" stroke-width="1.9"/>
<text x="64.5" y="1245.6" font-size="15.8" font-weight="normal" fill="#4d4d4d" text-anchor="end">2</text>
<line x1="68.95" x2="74.55" y1="1176.6" y2="1176.6" stroke="#111" stroke-width="1.9"/>
<text x="64.5" y="1182.3" font-size="15.8" font-weight="normal" fill="#4d4d4d" text-anchor="end">4</text>
<line x1="68.95" x2="74.55" y1="1113.4" y2="1113.4" stroke="#111" stroke-width="1.9"/>
<text x="64.5" y="1119.1" font-size="15.8" font-weight="normal" fill="#4d4d4d" text-anchor="end">6</text>
<line x1="68.95" x2="74.55" y1="1050.1" y2="1050.1" stroke="#111" stroke-width="1.9"/>
<text x="64.5" y="1055.8" font-size="15.8" font-weight="normal" fill="#4d4d4d" text-anchor="end">8</text>
<line x1="68.95" x2="74.55" y1="986.9" y2="986.9" stroke="#111" stroke-width="1.9"/>
<text x="64.5" y="992.6" font-size="15.8" font-weight="normal" fill="#4d4d4d" text-anchor="end">10</text>
<line x1="68.95" x2="74.55" y1="923.6" y2="923.6" stroke="#111" stroke-width="1.9"/>
<text x="64.5" y="929.3" font-size="15.8" font-weight="normal" fill="#4d4d4d" text-anchor="end">12</text>
<line x1="68.95" x2="74.55" y1="860.3" y2="860.3" stroke="#111" stroke-width="1.9"/>
<text x="64.5" y="866.0" font-size="15.8" font-weight="normal" fill="#4d4d4d" text-anchor="end">14</text>
<line x1="131.2" x2="131.2" y1="1303.0" y2="1308.2" stroke="#111" stroke-width="1.9"/>
<line x1="226.3" x2="226.3" y1="1303.0" y2="1308.2" stroke="#111" stroke-width="1.9"/>
<line x1="321.4" x2="321.4" y1="1303.0" y2="1308.2" stroke="#111" stroke-width="1.9"/>
<line x1="416.5" x2="416.5" y1="1303.0" y2="1308.2" stroke="#111" stroke-width="1.9"/>
<line x1="511.6" x2="511.6" y1="1303.0" y2="1308.2" stroke="#111" stroke-width="1.9"/>
<line x1="606.7" x2="606.7" y1="1303.0" y2="1308.2" stroke="#111" stroke-width="1.9"/>
<line x1="701.8" x2="701.8" y1="1303.0" y2="1308.2" stroke="#111" stroke-width="1.9"/>
<line x1="796.9" x2="796.9" y1="1303.0" y2="1308.2" stroke="#111" stroke-width="1.9"/>
<line x1="892.0" x2="892.0" y1="1303.0" y2="1308.2" stroke="#111" stroke-width="1.9"/>
<text x="107.9" y="1323.8" font-size="15.8" font-weight="normal" fill="#4d4d4d" text-anchor="start" textLength="46.7" lengthAdjust="spacingAndGlyphs">mTOR</text>
<text x="178.1" y="1323.8" font-size="15.8" font-weight="normal" fill="#4d4d4d" text-anchor="start" textLength="96.5" lengthAdjust="spacingAndGlyphs">SQSTM1/p62</text>
<text x="293.9" y="1323.8" font-size="15.8" font-weight="normal" fill="#4d4d4d" text-anchor="start" textLength="54.5" lengthAdjust="spacingAndGlyphs">LC3A/B</text>
<text x="395.0" y="1323.8" font-size="15.8" font-weight="normal" fill="#4d4d4d" text-anchor="start" textLength="43.0" lengthAdjust="spacingAndGlyphs">PARP</text>
<text x="483.0" y="1323.8" font-size="15.8" font-weight="normal" fill="#4d4d4d" text-anchor="start" textLength="57.3" lengthAdjust="spacingAndGlyphs">CASP-3</text>
<text x="591.5" y="1323.8" font-size="15.8" font-weight="normal" fill="#4d4d4d" text-anchor="start" textLength="30.6" lengthAdjust="spacingAndGlyphs">BAX</text>
<text x="673.7" y="1323.8" font-size="15.8" font-weight="normal" fill="#4d4d4d" text-anchor="start" textLength="56.2" lengthAdjust="spacingAndGlyphs">Survivin</text>
<text x="763.0" y="1323.8" font-size="15.8" font-weight="normal" fill="#4d4d4d" text-anchor="start" textLength="67.0" lengthAdjust="spacingAndGlyphs">SLC7A11</text>
<text x="871.4" y="1323.8" font-size="15.8" font-weight="normal" fill="#4d4d4d" text-anchor="start" textLength="41.6" lengthAdjust="spacingAndGlyphs">GPX4</text>
<text transform="translate(16.3 1075.8) rotate(-90)" font-size="19.8" text-anchor="middle" fill="#000" textLength="320.5" lengthAdjust="spacingAndGlyphs">Intensity (Housekeeping-normalized</text>
<text transform="translate(38.0 1072.0) rotate(-90)" font-size="19.8" text-anchor="middle" fill="#000" textLength="251.0" lengthAdjust="spacingAndGlyphs">Salinomycin to vehicle ratio)</text>
</svg></body></html>
